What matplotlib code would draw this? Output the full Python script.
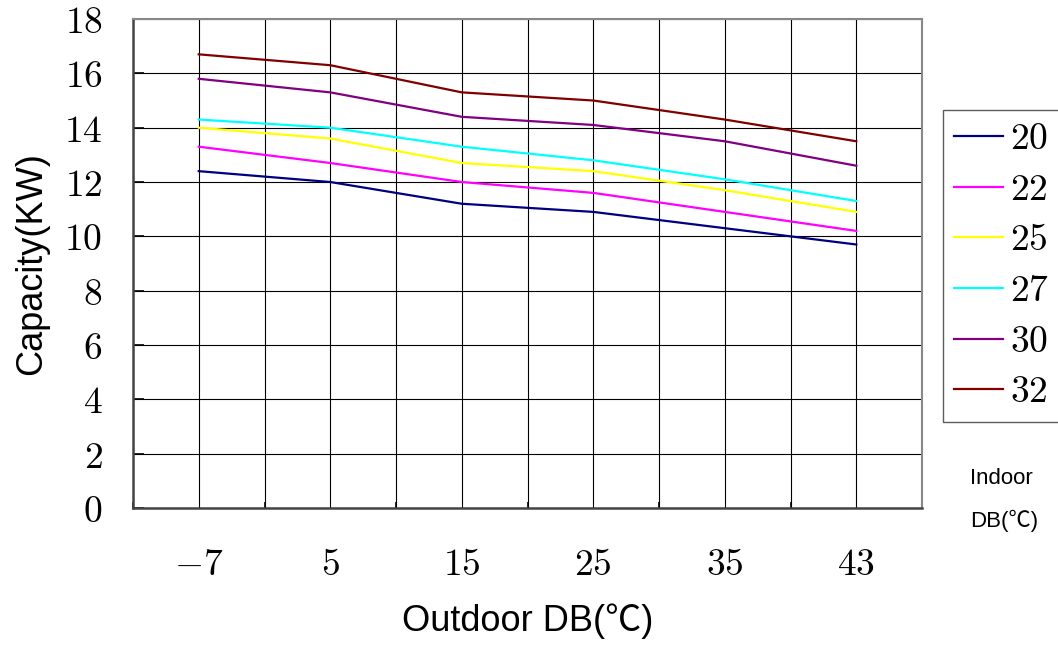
import numpy as np
import matplotlib
matplotlib.use("Agg")
import matplotlib.pyplot as plt

plt.rcParams['mathtext.fontset'] = 'cm'

outdoor = ['-7', '5', '15', '25', '35', '43']
indoor = ['20', '22', '25', '27', '30', '32']
cap_20 = [12.4, 12.0, 11.2, 10.9, 10.3, 9.7]
cap_22 = [13.3, 12.7, 12.0, 11.6, 10.9, 10.2]
cap_25 = [14.0, 13.6, 12.7, 12.4, 11.7, 10.9]
cap_27 = [14.3, 14.0, 13.3, 12.8, 12.1, 11.3]
cap_30 = [15.8, 15.3, 14.4, 14.1, 13.5, 12.6]
cap_32 = [16.7, 16.3, 15.3, 15.0, 14.3, 13.5]
colors = ['#000080', '#ff00ff', '#ffff00', '#00ffff', '#800080', '#800000']

series = [cap_20, cap_22, cap_25, cap_27, cap_30, cap_32]
label_font = ['Liberation Sans', 'Noto Sans CJK SC']


def main():
    fig = plt.figure(figsize=(10.58, 6.45), dpi=100)
    ax = fig.add_axes([0.1257, 0.2124, 0.7458, 0.7581])
    x = np.arange(len(outdoor))

    lines = []
    for vals, c in zip(series, colors):
        ln, = ax.plot(x, vals, color=c, lw=1.6, zorder=3)
        lines.append(ln)

    ax.set_xlim(-0.5, len(outdoor) - 0.5)
    ax.set_ylim(0, 18)
    ax.set_xticks(x)
    ax.set_xticklabels(['$%s$' % s for s in outdoor], fontsize=27)
    ax.set_xticks(np.arange(-0.5, len(outdoor), 1.0), minor=True)
    yt = np.arange(0, 19, 2)
    ax.set_yticks(yt)
    ax.set_yticklabels(['$%d$' % v for v in yt], fontsize=27)

    ax.tick_params(axis='x', which='major', length=0, pad=28)
    ax.tick_params(axis='x', which='minor', direction='in', length=4, width=1.2)
    ax.tick_params(axis='y', which='major', direction='in', length=8, width=1.2, pad=22)

    ax.grid(True, which='both', axis='x', color='black', lw=0.8)
    ax.grid(True, which='major', axis='y', color='black', lw=0.8)
    ax.set_axisbelow(True)

    for side in ['left', 'bottom']:
        ax.spines[side].set_color('#444444')
        ax.spines[side].set_linewidth(1.8)
    for side in ['top', 'right']:
        ax.spines[side].set_color('#888888')
        ax.spines[side].set_linewidth(1.5)

    ax.set_ylabel('Capacity(KW)', fontsize=26, family=label_font, labelpad=11)
    ax.set_xlabel('Outdoor DB(℃)', fontsize=26, family=label_font, labelpad=15)

    leg = fig.legend(lines, ['$%s$' % s for s in indoor], loc='upper left',
                     bbox_to_anchor=(943 / 1058, 1 - 110 / 645), fontsize=27,
                     frameon=True, fancybox=False, handlelength=1.3,
                     handletextpad=0.2, labelspacing=0.39, borderpad=0.3,
                     borderaxespad=0)
    leg.get_frame().set_edgecolor('#333333')
    leg.get_frame().set_linewidth(1.0)

    fig.text(970 / 1058, 1 - 478 / 645, 'Indoor', fontsize=16, family=label_font, va='center')
    fig.text(970 / 1058, 1 - 521 / 645, 'DB(℃)', fontsize=16, family=label_font, va='center')

    fig.savefig('out.png', dpi=100)


if __name__ == '__main__':
    main()
